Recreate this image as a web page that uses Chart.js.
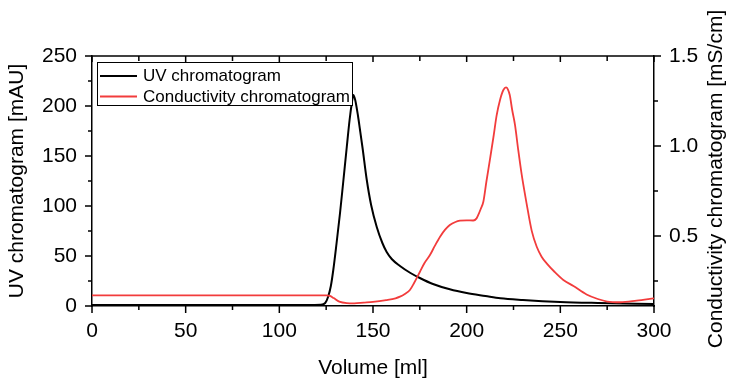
<!DOCTYPE html>
<html><head><meta charset="utf-8">
<script src="https://cdn.jsdelivr.net/npm/chart.js@4.4.0/dist/chart.umd.min.js"></script>
<style>html,body{margin:0;padding:0;background:#fff;}#wrap{width:730px;height:383px;position:relative;}</style>
</head><body><div id="wrap"><canvas id="c" width="730" height="383"></canvas></div>
<script>
// ---- data ----
const uvVolume = [0, 20, 40, 60, 80, 100, 115, 122, 124.5, 126, 127.5, 128.8, 130.5, 132.4, 134, 136, 137.5, 138.7, 139.5, 140.5, 142, 143, 144.5, 146.6, 149, 152, 155, 157.3, 160, 164.4, 170, 175, 182, 191, 200, 210, 218, 230, 250, 270, 300];
const uvSignal = [1, 1, 1, 1, 1, 1, 1, 1.3, 3, 9, 20, 36, 62, 93, 122, 159, 186, 203, 211, 206, 190, 177, 157, 127, 101, 79, 63, 54, 47, 40, 33, 28, 22, 16.7, 13, 10, 7.7, 6, 4, 3, 2];
const condVolume = [0, 50, 100, 125, 127, 129, 132, 136, 140, 145, 150, 157, 162, 164.4, 167, 169.7, 172, 175, 177.5, 180.4, 183, 185.8, 188.5, 191, 194, 196.4, 200, 203.5, 205.3, 206.2, 207.5, 208.9, 210.5, 212.5, 214.3, 216, 217.8, 219.6, 221, 222, 223, 224.3, 225.8, 227.5, 229.4, 232, 234.7, 237.4, 240, 242.7, 247, 251.6, 257, 264, 270, 275, 282, 290.7, 300];
const condSignal = [0.17, 0.17, 0.17, 0.17, 0.167, 0.155, 0.135, 0.127, 0.126, 0.13, 0.134, 0.144, 0.154, 0.163, 0.178, 0.2, 0.24, 0.30, 0.35, 0.394, 0.445, 0.496, 0.535, 0.561, 0.578, 0.585, 0.587, 0.586, 0.598, 0.617, 0.65, 0.69, 0.80, 0.93, 1.05, 1.17, 1.256, 1.311, 1.326, 1.315, 1.283, 1.2, 1.117, 0.98, 0.839, 0.68, 0.53, 0.44, 0.385, 0.348, 0.30, 0.256, 0.222, 0.175, 0.150, 0.136, 0.132, 0.141, 0.154];
const xTicks = [0, 25, 50, 75, 100, 125, 150, 175, 200, 225, 250, 275, 300];
const uvTicks = [0, 25, 50, 75, 100, 125, 150, 175, 200, 225, 250];
const condTicks = [0.25, 0.5, 0.75, 1.0, 1.25, 1.5];
const seriesLabels = ['UV chromatogram', 'Conductivity chromatogram'];
const xTitle = 'Volume [ml]';
const uvTitle = 'UV chromatogram [mAU]';
const condTitle = 'Conductivity chromatogram [mS/cm]';

const FONT = 'Arial, "Liberation Sans", sans-serif';
const RED = '#f23c3c';

function pts(xs, ys) { return xs.map((x, i) => ({x: x, y: ys[i]})); }
const isMajorX = v => v % 50 === 0;
const isMajorUV = v => v % 50 === 0;
const isMajorCond = v => Math.abs(v * 2 - Math.round(v * 2)) < 1e-9;

const framePlugin = {
  id: 'frame',
  afterDraw(chart) {
    const ctx = chart.ctx, a = chart.chartArea;
    const sx = chart.scales.x, sy = chart.scales.y, sy2 = chart.scales.y2;
    ctx.save();
    ctx.strokeStyle = '#000';
    ctx.lineWidth = 1.5;
    // top border
    ctx.beginPath(); ctx.moveTo(a.left, a.top); ctx.lineTo(a.right, a.top); ctx.stroke();
    ctx.beginPath();
    sx.ticks.forEach(t => {
      const p = sx.getPixelForValue(t.value);
      const L = isMajorX(t.value) ? 7 : 4;
      ctx.moveTo(p, a.bottom); ctx.lineTo(p, a.bottom + L);
      ctx.moveTo(p, a.top); ctx.lineTo(p, a.top + (isMajorX(t.value) ? 6 : 5));
    });
    sy.ticks.forEach(t => {
      const p = sy.getPixelForValue(t.value);
      const L = isMajorUV(t.value) ? 7 : 4;
      ctx.moveTo(a.left, p); ctx.lineTo(a.left - L, p);
    });
    sy2.ticks.forEach(t => {
      const p = sy2.getPixelForValue(t.value);
      const L = isMajorCond(t.value) ? 7 : 4;
      ctx.moveTo(a.right, p); ctx.lineTo(a.right + L, p);
    });
    ctx.stroke();

    // legend
    const bx = 97, by = 62, bw = 255, bh = 43;
    ctx.fillStyle = '#fff';
    ctx.fillRect(bx, by, bw, bh);
    ctx.lineWidth = 1;
    ctx.strokeStyle = '#000';
    ctx.strokeRect(bx + 0.5, by + 0.5, bw, bh);
    const rows = [76, 96.5];
    chart.data.datasets.forEach((ds, i) => {
      ctx.strokeStyle = ds.borderColor;
      ctx.lineWidth = 2;
      ctx.beginPath(); ctx.moveTo(100, rows[i]); ctx.lineTo(137, rows[i]); ctx.stroke();
      ctx.fillStyle = '#000';
      ctx.font = '17px ' + FONT;
      ctx.textBaseline = 'middle';
      ctx.textAlign = 'left';
      ctx.fillText(ds.label, 143, rows[i] + 0.5);
    });

    // right axis title (reads bottom to top)
    ctx.save();
    ctx.translate(716, (a.top + a.bottom) / 2 - 2);
    ctx.rotate(-Math.PI / 2);
    ctx.fillStyle = '#000';
    ctx.font = '21px ' + FONT;
    ctx.textAlign = 'center';
    ctx.textBaseline = 'middle';
    ctx.fillText(condTitle, 0, 0);
    ctx.restore();
    ctx.restore();
  }
};

new Chart(document.getElementById('c'), {
  type: 'line',
  data: {
    datasets: [
      { label: seriesLabels[0], data: pts(uvVolume, uvSignal), yAxisID: 'y', borderColor: '#000', borderWidth: 2, pointRadius: 0, cubicInterpolationMode: 'monotone', order: 1 },
      { label: seriesLabels[1], data: pts(condVolume, condSignal), yAxisID: 'y2', borderColor: RED, borderWidth: 1.8, pointRadius: 0, cubicInterpolationMode: 'monotone', order: 0 }
    ]
  },
  options: {
    responsive: false,
    animation: false,
    devicePixelRatio: 1,
    layout: { padding: { top: 56, left: 0, right: 0, bottom: 0 } },
    plugins: { legend: { display: false }, tooltip: { enabled: false } },
    scales: {
      x: {
        type: 'linear', min: 0, max: 300,
        afterBuildTicks: s => { s.ticks = xTicks.map(v => ({value: v})); },
        afterFit: s => { s.height = 77; },
        grid: { display: false },
        border: { display: true, color: '#000', width: 1.5 },
        ticks: { autoSkip: false, maxRotation: 0, color: '#000', padding: 5, font: { family: FONT, size: 21 }, callback: v => isMajorX(v) ? String(v) : '' },
        title: { display: true, text: xTitle, color: '#000', font: { family: FONT, size: 21 }, padding: { top: 0, bottom: 2 } }
      },
      y: {
        type: 'linear', position: 'left', min: 0, max: 250,
        afterBuildTicks: s => { s.ticks = uvTicks.map(v => ({value: v})); },
        afterFit: s => { s.width = 92; },
        grid: { display: false },
        border: { display: true, color: '#000', width: 1.5 },
        ticks: { autoSkip: false, color: '#000', padding: 7, font: { family: FONT, size: 21 }, callback: v => isMajorUV(v) ? String(v) : '' },
        title: { display: true, text: uvTitle, color: '#000', font: { family: FONT, size: 21 }, padding: { top: 5, bottom: 0 } }
      },
      y2: {
        type: 'linear', position: 'right', min: 1.5 - 250 / 180, max: 1.5,
        afterBuildTicks: s => { s.ticks = condTicks.map(v => ({value: v})); },
        afterFit: s => { s.width = 76; },
        grid: { display: false },
        border: { display: true, color: '#000', width: 1.5 },
        ticks: { autoSkip: false, color: '#000', padding: 7, font: { family: FONT, size: 21 }, callback: v => isMajorCond(v) ? v.toFixed(1) : '' },
        title: { display: false }
      }
    }
  },
  plugins: [framePlugin]
});
</script>
</body></html>
